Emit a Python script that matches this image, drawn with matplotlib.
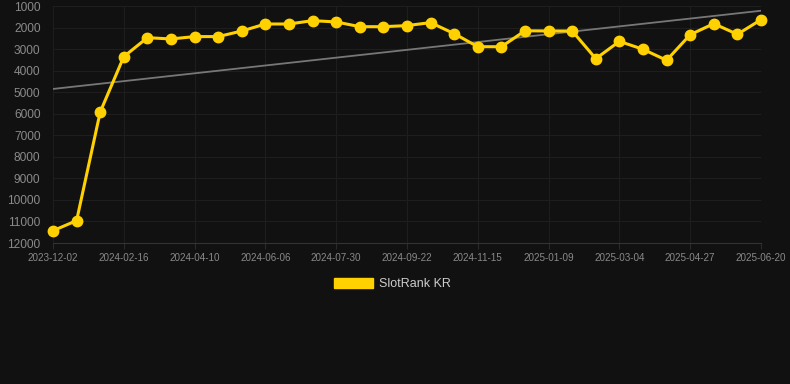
import matplotlib
matplotlib.use("Agg")
import matplotlib.pyplot as plt
from matplotlib.patches import Patch

# rank values, one per sample date
dates = ["2023-12-02", "", "", "2024-02-16", "", "", "2024-04-10", "", "",
         "2024-06-06", "", "", "2024-07-30", "", "", "2024-09-22", "", "",
         "2024-11-15", "", "", "2025-01-09", "", "", "2025-03-04", "", "",
         "2025-04-27", "", "", "2025-06-20"]
ranks = [11430, 10960, 5920, 3350, 2470, 2530, 2420, 2420, 2160, 1835,
         1835, 1680, 1740, 1960, 1960, 1910, 1770, 2285, 2890, 2890,
         2150, 2160, 2160, 3445, 2640, 3010, 3520, 2330, 1820, 2315, 1635]
trend_ends = [4850, 1220]
y_ticks = [1000, 2000, 3000, 4000, 5000, 6000, 7000, 8000, 9000, 10000, 11000, 12000]

bg = "#111111"
gold = "#FFD100"

fig = plt.figure(figsize=(7.9, 3.84), dpi=100, facecolor=bg)
ax = fig.add_axes([53/790, 141/384, 708/790, 237/384], facecolor=bg)

x = list(range(len(ranks)))
ax.plot([x[0], x[-1]], trend_ends, color="#777777", lw=1.3, zorder=2)
ax.plot(x, ranks, color=gold, lw=2.2, marker="o", ms=7.5, zorder=3, clip_on=False)

ax.set_xlim(0, len(ranks) - 1)
ax.set_ylim(12000, 1000)
ax.set_yticks(y_ticks)
ax.set_yticklabels([str(v) for v in y_ticks])
tick_pos = [i for i, d in enumerate(dates) if d]
ax.set_xticks(tick_pos)
ax.set_xticklabels([dates[i] for i in tick_pos])

ax.grid(True, color="#1e1e1e", lw=0.8)
ax.set_axisbelow(True)
for s in ["top", "right", "left"]:
    ax.spines[s].set_visible(False)
ax.spines["bottom"].set_color("#333333")

ax.tick_params(axis="y", length=0, pad=9, labelsize=8.6, labelcolor="#8a8a8a")
ax.tick_params(axis="x", length=4, color="#2a2a2a", pad=3, labelsize=7.1, labelcolor="#8a8a8a")
for lbl in ax.get_xticklabels() + ax.get_yticklabels():
    lbl.set_fontfamily("Liberation Sans")

fig.legend(handles=[Patch(facecolor=gold, edgecolor=gold)], labels=["SlotRank KR"],
           loc="center", bbox_to_anchor=(0.497, 1 - 284/384), frameon=False,
           handlelength=3.1, handleheight=0.85, handletextpad=0.5,
           prop={"family": "Liberation Sans", "size": 9}, labelcolor="#cccccc")

fig.savefig("out.png", dpi=100, facecolor=bg)
